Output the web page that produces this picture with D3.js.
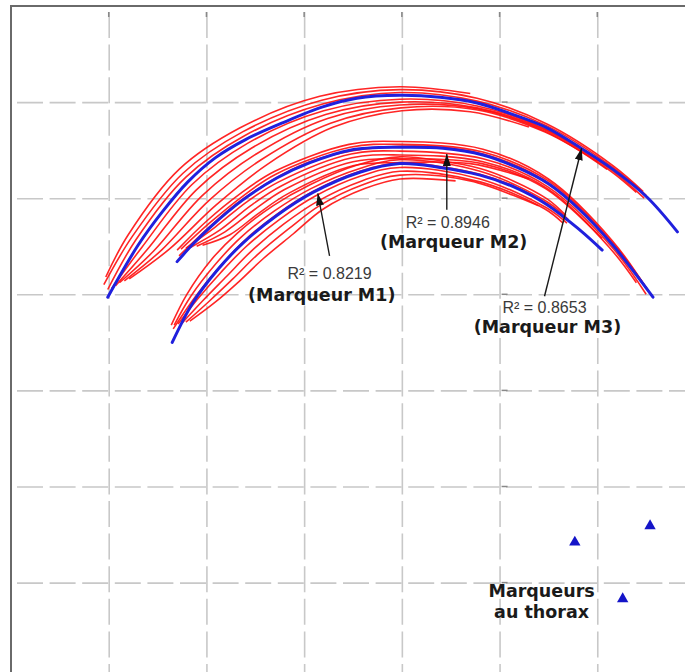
<!DOCTYPE html>
<html><head><meta charset="utf-8">
<script src="https://cdn.jsdelivr.net/npm/d3@7"></script>
<style>body{margin:0;background:#fff}svg{display:block}</style>
</head><body>
<script>
// ---------- DATA ----------
const xGridValues = [100, 200, 300, 400, 500, 600];
const yGridValues = [100, 200, 300, 400, 500, 600];

// fitted (blue) curves
const m1Fit = [[165,350],[186,391],[211,425],[237,453],[272,482],[309,506],[357,527],[398,536],[439,532],[480,524],[514,512],[549,493],[582,467],[605,446]];
const m2Fit = [[170,434],[186,452],[204,470],[237,498],[272,521],[306,537],[347,550],[398,553],[442,552],[483,545],[518,532],[550,515],[582,488],[616,451],[657,397]];
const m3Fit = [[99,397],[130,451],[155,486],[181,517],[209,542],[240,561],[277,578],[319,595],[354,604],[398,607],[439,605],[477,599],[514,587],[549,573],[582,553],[616,530],[651,501],[682,465]];

// individual trials (red)
const m1Trials = [
  [[164,368],[180,400],[205,436],[232,464],[268,492],[306,514],[356,535],[398,543],[439,539],[480,531],[514,518],[549,499],[568,482]],
  [[167,368],[184,398],[209,431],[235,459],[270,487],[307,510],[357,531],[398,540],[480,528],[549,496],[570,478]],
  [[171,369],[191,395],[215,423],[241,450],[275,478],[311,502],[358,523],[398,532],[480,520],[548,490],[569,474]],
  [[175,370],[196,393],[221,419],[246,445],[279,473],[314,497],[359,518],[398,528],[480,517],[546,489],[565,474]],
  [[179,371],[202,392],[227,416],[252,441],[284,468],[317,493],[360,514],[398,524],[470,518],[540,492]],
  [[183,372],[208,391],[233,413],[258,437],[289,463],[320,489],[362,510],[398,520],[455,518]],
  [[166,364],[189,398],[213,428],[239,456],[273,484],[309,507],[357,528],[398,537],[439,533],[480,525],[514,513],[549,494],[569,477]]
];
const m2Trials = [
  [[170,446],[200,476],[235,505],[270,528],[346,556],[398,559],[483,551],[550,520],[616,455],[651,405]],
  [[174,447],[203,474],[237,502],[271,525],[347,553],[398,556],[483,548],[550,518],[616,453],[654,401]],
  [[179,448],[209,470],[241,496],[274,517],[348,546],[398,549],[483,541],[549,512],[615,449],[650,400]],
  [[184,449],[214,467],[245,492],[277,513],[349,542],[398,545],[483,538],[549,510],[613,448],[640,412]],
  [[190,450],[219,465],[249,488],[280,509],[350,538],[399,541],[482,536],[547,510],[605,458]],
  [[196,451],[224,462],[253,484],[284,505],[351,534],[399,537],[470,536],[530,520]],
  [[172,440],[204,471],[237,499],[306,538],[398,554],[483,546],[550,516],[616,452],[652,404]]
];
const m3Trials = [
  [[95,410],[124,460],[176,526],[237,569],[318,602],[398,613],[477,604],[549,577],[616,534],[647,507]],
  [[99,405],[128,457],[179,522],[239,565],[319,598],[398,610],[477,601],[549,575],[616,532],[650,503]],
  [[103,406],[134,449],[185,514],[242,557],[320,591],[398,603],[477,596],[549,571],[615,529],[648,500]],
  [[107,409],[139,446],[190,509],[246,552],[322,587],[398,600],[477,594],[549,570],[614,528],[640,506]],
  [[111,412],[146,445],[196,503],[251,546],[324,583],[398,597],[477,593],[548,569],[610,530]],
  [[116,414],[154,446],[203,498],[256,540],[327,578],[399,594],[476,592],[546,569],[600,538]],
  [[121,416],[162,447],[210,493],[262,535],[330,574],[400,591],[470,590],[530,574]],
  [[97,418],[120,462],[172,530],[234,573],[316,606],[398,616],[470,609]]
];

// thorax markers
const thoraxMarkers = [[577,142],[654,159],[626,83]];

// labels
const markerNames = ["(Marqueur M1)", "(Marqueur M2)", "(Marqueur M3)"];
const r2Values = ["0.8219", "0.8946", "0.8653"];
const thoraxLabel = ["Marqueurs", "au thorax"];

// ---------- LAYOUT ----------
const W = 685, H = 672;
const svg = d3.select("body").append("svg").attr("width", W).attr("height", H);
const x = d3.scaleLinear().domain([0, 700]).range([11, 695]);
const y = d3.scaleLinear().domain([0, 700]).range([678.7, 6]);
const plotW = x(700) - x(0), plotH = y(0) - y(700);

// grid
const gridStyle = sel => sel.selectAll(".tick line")
  .attr("stroke", "#c8c8c8").attr("stroke-width", 1.6)
  .attr("stroke-dasharray", "26,6.6").attr("stroke-dashoffset", 26.6);

const gx = svg.append("g").attr("transform", `translate(0,${y(700)})`)
  .call(d3.axisTop(x).tickValues(xGridValues).tickSize(-plotH).tickFormat(""));
gx.select(".domain").remove();
gridStyle(gx);

const gy = svg.append("g").attr("transform", `translate(${x(0)},0)`)
  .call(d3.axisLeft(y).tickValues(yGridValues).tickSize(-plotW).tickFormat(""));
gy.select(".domain").remove();
gridStyle(gy);

// small tick marks
svg.append("g").selectAll("line").data(xGridValues).join("line")
  .attr("x1", d => x(d)).attr("x2", d => x(d)).attr("y1", 12).attr("y2", 17)
  .attr("stroke", "#888").attr("stroke-width", 1.5);
svg.append("g").selectAll("line").data(yGridValues).join("line")
  .attr("x1", x(500) + 2).attr("x2", x(500) + 8).attr("y1", d => y(d)).attr("y2", d => y(d))
  .attr("stroke", "#888").attr("stroke-width", 1.5);

// frame
svg.append("rect").attr("x", x(0)).attr("y", y(700)).attr("width", plotW).attr("height", plotH)
  .attr("fill", "none").attr("stroke", "#6a6a6a").attr("stroke-width", 2);

// curves
const line = d3.line().x(d => x(d[0])).y(d => y(d[1])).curve(d3.curveCatmullRom.alpha(0.5));
const allTrials = [...m1Trials, ...m2Trials, ...m3Trials];
svg.append("g").selectAll("path").data(allTrials).join("path")
  .attr("d", line).attr("fill", "none").attr("stroke", "#ff0d0d").attr("stroke-width", 1.6)
  .attr("stroke-opacity", 0.9);
svg.append("g").selectAll("path").data([m1Fit, m2Fit, m3Fit]).join("path")
  .attr("d", line).attr("fill", "none").attr("stroke", "#2020dd").attr("stroke-width", 3)
  .attr("stroke-linecap", "round");

// thorax markers
svg.append("g").selectAll("path").data(thoraxMarkers).join("path")
  .attr("d", d3.symbol(d3.symbolTriangle, 56))
  .attr("transform", d => `translate(${x(d[0])},${y(d[1])})`)
  .attr("fill", "#1414c8");

// arrows
svg.append("defs").append("marker").attr("id", "ah")
  .attr("viewBox", "0 0 12 8").attr("refX", 12).attr("refY", 4)
  .attr("markerWidth", 12).attr("markerHeight", 8).attr("markerUnits", "userSpaceOnUse")
  .attr("orient", "auto")
  .append("path").attr("d", "M0,0L12,4L0,8Z").attr("fill", "#111");

const annotations = [
  {tail: [326, 440], tip: [314, 505], r2At: [326, 416], nameAt: [318, 393]},
  {tail: [446, 488], tip: [446, 546], r2At: [447, 469], nameAt: [453, 448]},
  {tail: [546, 398], tip: [584, 552], r2At: [546, 381], nameAt: [549, 360]}
];
annotations.forEach((a, i) => {
  svg.append("line").attr("x1", x(a.tail[0])).attr("y1", y(a.tail[1]))
    .attr("x2", x(a.tip[0])).attr("y2", y(a.tip[1]))
    .attr("stroke", "#1a1a1a").attr("stroke-width", 1.4).attr("marker-end", "url(#ah)");
  svg.append("text").attr("x", x(a.r2At[0])).attr("y", y(a.r2At[1]))
    .attr("text-anchor", "middle").attr("font-family", "Liberation Sans, Arial, sans-serif")
    .attr("font-size", 16).attr("fill", "#3a3a3a").text("R\u00B2 = " + r2Values[i]);
  svg.append("text").attr("x", x(a.nameAt[0])).attr("y", y(a.nameAt[1]))
    .attr("text-anchor", "middle").attr("font-family", "DejaVu Sans, Verdana, sans-serif")
    .attr("font-weight", "bold").attr("font-size", 17.5).attr("fill", "#1a1a1a").text(markerNames[i]);
});

// thorax label
svg.append("g").selectAll("text").data(thoraxLabel).join("text")
  .attr("x", x(543)).attr("y", (d, i) => y(i === 0 ? 85 : 63))
  .attr("text-anchor", "middle").attr("font-family", "DejaVu Sans, Verdana, sans-serif")
  .attr("font-weight", "bold").attr("font-size", 17.5).attr("fill", "#1a1a1a").text(d => d);
</script>
</body></html>
